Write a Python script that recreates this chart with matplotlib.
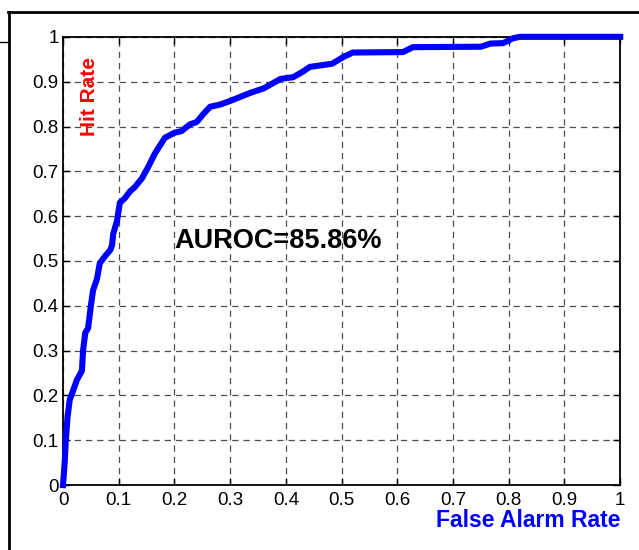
import numpy as np
import matplotlib
matplotlib.use('Agg')
import matplotlib.pyplot as plt
from matplotlib.lines import Line2D

plt.rcParams['font.family'] = ['Liberation Sans', 'DejaVu Sans']

# ROC 曲线
far = [0, 0.003, 0.005, 0.008, 0.012, 0.015, 0.025, 0.034, 0.036, 0.04, 0.045,
       0.05, 0.054, 0.061, 0.066, 0.075, 0.085, 0.088, 0.09, 0.097, 0.102,
       0.111, 0.12, 0.129, 0.142, 0.153, 0.165, 0.183, 0.2, 0.213, 0.228,
       0.24, 0.252, 0.264, 0.282, 0.30, 0.318, 0.336, 0.36, 0.39, 0.413,
       0.43, 0.443, 0.483, 0.503, 0.52, 0.61, 0.628, 0.75, 0.767, 0.79,
       0.808, 0.82, 1.0]
hit = [0, 0.05, 0.1, 0.15, 0.19, 0.2, 0.235, 0.255, 0.3, 0.34, 0.35,
       0.4, 0.435, 0.46, 0.495, 0.51, 0.525, 0.535, 0.56, 0.59, 0.63,
       0.64, 0.655, 0.665, 0.685, 0.71, 0.74, 0.775, 0.786, 0.79, 0.805,
       0.81, 0.828, 0.844, 0.849, 0.857, 0.866, 0.875, 0.885, 0.906, 0.91,
       0.922, 0.933, 0.94, 0.955, 0.965, 0.966, 0.977, 0.978, 0.985, 0.986,
       0.997, 1.0, 1.0]
auroc_text = 'AUROC=85.86%'
ticks = np.round(np.arange(0, 1.01, 0.1), 1)
tick_labels = ['0', '0.1', '0.2', '0.3', '0.4', '0.5', '0.6', '0.7', '0.8', '0.9', '1']

fig = plt.figure(figsize=(6.39, 5.5), dpi=100)
ax = fig.add_axes([0.0986, 0.118, 0.872, 0.815])

ax.plot(far, hit, color='#0000ff', linewidth=4.4, clip_on=False,
        solid_joinstyle='round', zorder=3)

ax.set_xlim(0, 1)
ax.set_ylim(0, 1)
ax.set_xticks(ticks)
ax.set_yticks(ticks)
ax.set_xticklabels(tick_labels)
ax.set_yticklabels(tick_labels)
ax.tick_params(direction='in', length=5, width=1, labelsize=13.5, top=True, right=True,
               labeltop=False, labelright=False, pad=3)
ax.tick_params(axis='x', pad=5)
for s in ax.spines.values():
    s.set_linewidth(1.3)

ax.grid(True, color='0.3', linestyle=(0, (5, 4)), linewidth=0.9)

ax.text(0.199, 0.545, auroc_text, fontsize=19.5, fontweight='bold', ha='left', va='center')
ax.text(0.048, 0.868, 'Hit Rate', color='red', fontsize=15, fontweight='bold',
        rotation=90, ha='center', va='center')
ax.text(1.0, -0.08, 'False Alarm Rate', color='#0000ff', fontsize=16.5, fontweight='bold',
        ha='right', va='center', transform=ax.transAxes)

# 外框线
fig.add_artist(Line2D([0.013, 1.0], [0.978, 0.978], color='black', linewidth=2))
fig.add_artist(Line2D([0.014, 0.014], [0.0, 0.978], color='black', linewidth=2))
fig.add_artist(Line2D([0.0, 0.014], [0.924, 0.924], color='black', linewidth=1))

fig.savefig('out.png', dpi=100)
